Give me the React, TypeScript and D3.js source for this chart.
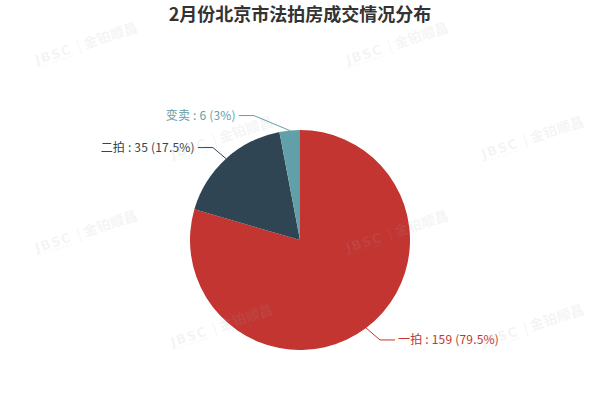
import { useEffect, useRef } from "react";
import type { JSX } from "react";
import * as d3 from "d3";

const title = "2月份北京市法拍房成交情况分布";
const categories = ["一拍", "二拍", "变卖"];
const values = [159, 35, 6];
const colors = ["#c23531", "#2f4554", "#61a0a8"];

type Label = {
  name: string;
  value: number;
  pct: number;
  color: string;
  x1: number;
  y1: number;
  x: number;
  y: number;
  dir: number;
};

export default function App(): JSX.Element {
  const svgRef = useRef<SVGSVGElement>(null);

  useEffect(() => {
    const svgEl = svgRef.current;
    if (!svgEl) return;
    const width = 600;
    const height = 400;
    const font = "'Noto Sans CJK SC', 'Noto Sans', sans-serif";

    const svg = d3.select(svgEl);
    svg.selectAll("*").remove();
    svg.attr("viewBox", `0 0 ${width} ${height}`);

    svg
      .append("rect")
      .attr("width", width)
      .attr("height", height)
      .attr("fill", "#fff");

    // title
    svg
      .append("text")
      .attr("x", width / 2)
      .attr("y", 21)
      .attr("text-anchor", "middle")
      .attr("font-family", font)
      .attr("font-size", 18)
      .attr("font-weight", "bold")
      .attr("fill", "#333")
      .text(title);

    const cx = width / 2;
    const cy = height * 0.6;
    const r = Math.min(width, height) / 2 * 0.55;
    const len = 15;
    const len2 = 15;

    const data = categories.map((c, i) => ({ name: c, value: values[i], color: colors[i] }));
    const total = d3.sum(values);
    const arcs = d3
      .pie<{ name: string; value: number; color: string }>()
      .sort(null)
      .value((d) => d.value)(data);

    const arc = d3
      .arc<d3.PieArcDatum<{ name: string; value: number; color: string }>>()
      .innerRadius(0)
      .outerRadius(r);

    const g = svg.append("g").attr("transform", `translate(${cx},${cy})`);
    g.selectAll("path.slice")
      .data(arcs)
      .join("path")
      .attr("class", "slice")
      .attr("d", arc)
      .attr("fill", (d) => d.data.color);

    // label layout, echarts style
    const labels: Label[] = arcs.map((a) => {
      const mid = (a.startAngle + a.endAngle) / 2;
      const dx = Math.sin(mid);
      const dy = -Math.cos(mid);
      const dir = dx < 0 ? -1 : 1;
      const x2 = cx + (r + len) * dx;
      const y2 = cy + (r + len) * dy;
      return {
        name: a.data.name,
        value: a.data.value,
        pct: +((a.data.value / total) * 100).toFixed(2),
        color: a.data.color,
        x1: cx + r * dx,
        y1: cy + r * dy,
        x: x2 + dir * (len2 + 5),
        y: y2,
        dir,
      };
    });

    const changeX = (list: Label[], isDown: boolean, dir: number) => {
      let last = isDown ? Number.MAX_VALUE : 0;
      list.forEach((l) => {
        const deltaY = Math.abs(l.y - cy);
        let deltaX =
          deltaY < r + len
            ? Math.sqrt((r + len + len2) ** 2 - deltaY ** 2)
            : Math.abs(l.x - cx);
        if (isDown && deltaX >= last) deltaX = last - 10;
        if (!isDown && deltaX <= last) deltaX = last + 10;
        l.x = cx + deltaX * dir;
        last = deltaX;
      });
    };
    [-1, 1].forEach((dir) => {
      const side = labels.filter((l) => l.dir === dir).sort((a, b) => a.y - b.y);
      changeX(side.filter((l) => l.y < cy), false, dir);
      changeX(side.filter((l) => l.y >= cy), true, dir);
    });

    const lbl = svg.append("g");
    labels.forEach((l) => {
      const xEnd = l.x - l.dir * 3;
      const xMid = xEnd - l.dir * len2;
      lbl
        .append("polyline")
        .attr("points", `${l.x1},${l.y1} ${xMid},${l.y} ${xEnd},${l.y}`)
        .attr("fill", "none")
        .attr("stroke", l.color)
        .attr("stroke-width", 1);
      lbl
        .append("text")
        .attr("x", l.x)
        .attr("y", l.y)
        .attr("dy", "0.35em")
        .attr("text-anchor", l.dir < 0 ? "end" : "start")
        .attr("font-family", font)
        .attr("font-size", 12)
        .attr("letter-spacing", 0.2)
        .attr("fill", l.color)
        .text(`${l.name} : ${l.value} (${l.pct}%)`);
    });

    // watermark grid
    const wmFill = "rgba(170,170,170,0.13)";
    const wm = svg.append("g").attr("pointer-events", "none");
    const rowGap = 94;
    const colGap = 311;
    for (let row = 0; row < 4; row++) {
      const y0 = 46 + row * rowGap;
      const xStart = row % 2 === 0 ? 78 : 78 + colGap / 2 - 20;
      for (let x0 = xStart; x0 < width + 60; x0 += colGap) {
        const w = wm.append("g").attr("transform", `translate(${x0},${y0}) rotate(-18)`);
        w.append("text")
          .attr("x", -45)
          .attr("y", 5)
          .attr("font-family", "'DejaVu Sans', sans-serif")
          .attr("font-size", 13)
          .attr("font-weight", "bold")
          .attr("letter-spacing", 1)
          .attr("fill", wmFill)
          .text("JBSC");
        w.append("text")
          .attr("x", -44)
          .attr("y", 9)
          .attr("font-family", "'DejaVu Sans', sans-serif")
          .attr("font-size", 3.5)
          .attr("fill", wmFill)
          .text("ASSET MANAGEMENT");
        w.append("text")
          .attr("x", -1)
          .attr("y", 5)
          .attr("font-family", font)
          .attr("font-size", 13)
          .attr("font-weight", "bold")
          .attr("fill", wmFill)
          .text("|");
        w.append("text")
          .attr("x", 6)
          .attr("y", 5)
          .attr("font-family", font)
          .attr("font-size", 14)
          .attr("font-weight", "bold")
          .attr("fill", wmFill)
          .text("金铂顺昌");
      }
    }
  }, []);

  return (
    <div style={{ position: "absolute", left: 0, top: 0, width: 600, height: 400 }}>
      <svg ref={svgRef} style={{ width: 600, height: 400, display: "block" }} />
    </div>
  );
}
